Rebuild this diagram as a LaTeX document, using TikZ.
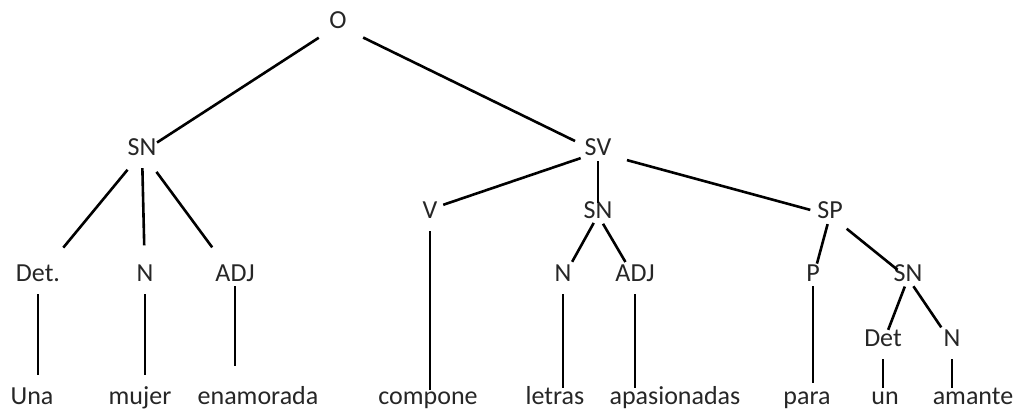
\documentclass[tikz,border=0pt]{standalone}
\usepackage{fontspec}
\setmainfont{Carlito}

\begin{document}
\begin{tikzpicture}[
    x=1pt, y=-1pt,
    cat/.style={anchor=base, inner sep=2pt, text height=0.65em, text depth=0.1em,
                font=\fontsize{26}{30}\selectfont, text=black!85},
    word/.style={cat},
    branch/.style={line width=2.6pt},
    leaf/.style={line width=2.6pt, shorten <=10pt, shorten >=7pt}
  ]
  \useasboundingbox (0,0) rectangle (1028,415);

  % categories
  \node[cat] (o)    at (338,28)  {O};
  \node[cat] (sn1)  at (142,155) {SN};
  \node[cat] (sv)   at (598,155) {SV};
  \node[cat] (det1) at (38,281)  {Det.};
  \node[cat] (n1)   at (145,281) {N};
  \node[cat] (adj1) at (235,281) {ADJ};
  \node[cat] (v)    at (430,218) {V};
  \node[cat] (sn2)  at (598,218) {SN};
  \node[cat] (sp)   at (830,218) {SP};
  \node[cat] (n2)   at (563,281) {N};
  \node[cat] (adj2) at (635,281) {ADJ};
  \node[cat] (p)    at (813,281) {P};
  \node[cat] (sn3)  at (908,281) {SN};
  \node[cat] (det3) at (883,346) {Det};
  \node[cat] (n3)   at (952,346) {N};

  % words
  \node[word] (una)   at (32,404)  {Una};
  \node[word] (mujer) at (140,404) {mujer};
  \node[word] (enam)  at (258,404) {enamorada};
  \node[word] (comp)  at (428,404) {compone};
  \node[word] (letr)  at (555,404) {letras};
  \node[word] (apas)  at (675,404) {apasionadas};
  \node[word] (para)  at (807,404) {para};
  \node[word] (un)    at (885,404) {un};
  \node[word] (amant) at (973,404) {amante};

  % branches
  \draw[branch, shorten <=12pt, shorten >=7pt] (o) -- (sn1);
  \draw[branch, shorten <=16pt, shorten >=12pt] (o) -- (sv);
  \draw[branch, shorten <=15pt, shorten >=32pt] (sn1) -- (det1);
  \draw[branch, shorten <=10pt, shorten >=27pt] (sn1) -- (n1);
  \draw[branch, shorten <=17pt, shorten >=31pt] (sn1) -- (adj1);
  \draw[branch, shorten <=2pt, shorten >=14pt] (sv) -- (v.north);
  \draw[branch, shorten <=3pt, shorten >=6pt] (sv) -- (sn2);
  \draw[branch, shorten <=14pt, shorten >=5pt] (sv) -- (sp);
  \draw[branch, shorten <=2pt, shorten >=12pt] (sn2) -- (n2);
  \draw[branch, shorten <=3pt, shorten >=12pt] (sn2) -- (adj2);
  \draw[branch, shorten <=3pt, shorten >=9pt] (sp) -- (p);
  \draw[branch, shorten <=12pt, shorten >=4pt] (sp) -- (sn3);
  \draw[branch, shorten <=2.5pt, shorten >=8pt] (sn3) -- (det3);
  \draw[branch, shorten <=2.5pt, shorten >=12pt] (sn3) -- (n3);

  % leaves
  \draw[leaf, shorten >=20pt] (det1.south) -- (det1.south |- una.north);
  \draw[leaf, shorten >=20pt] (n1.south) -- (n1.south |- mujer.north);
  \draw[leaf, shorten <=2pt, shorten >=29pt] (adj1.south) -- (adj1.south |- enam.north);
  \draw[leaf, shorten >=5pt] (v.south) -- (v.south |- comp.north);
  \draw[leaf] (n2.south) -- (n2.south |- letr.north);
  \draw[leaf] (adj2.south) -- (adj2.south |- apas.north);
  \draw[leaf, shorten <=2pt, shorten >=12pt] (p.south) -- (p.south |- para.north);
  \draw[leaf] (det3.south) -- (det3.south |- un.north);
  \draw[leaf] (n3.south) -- (n3.south |- amant.north);
\end{tikzpicture}
\end{document}
